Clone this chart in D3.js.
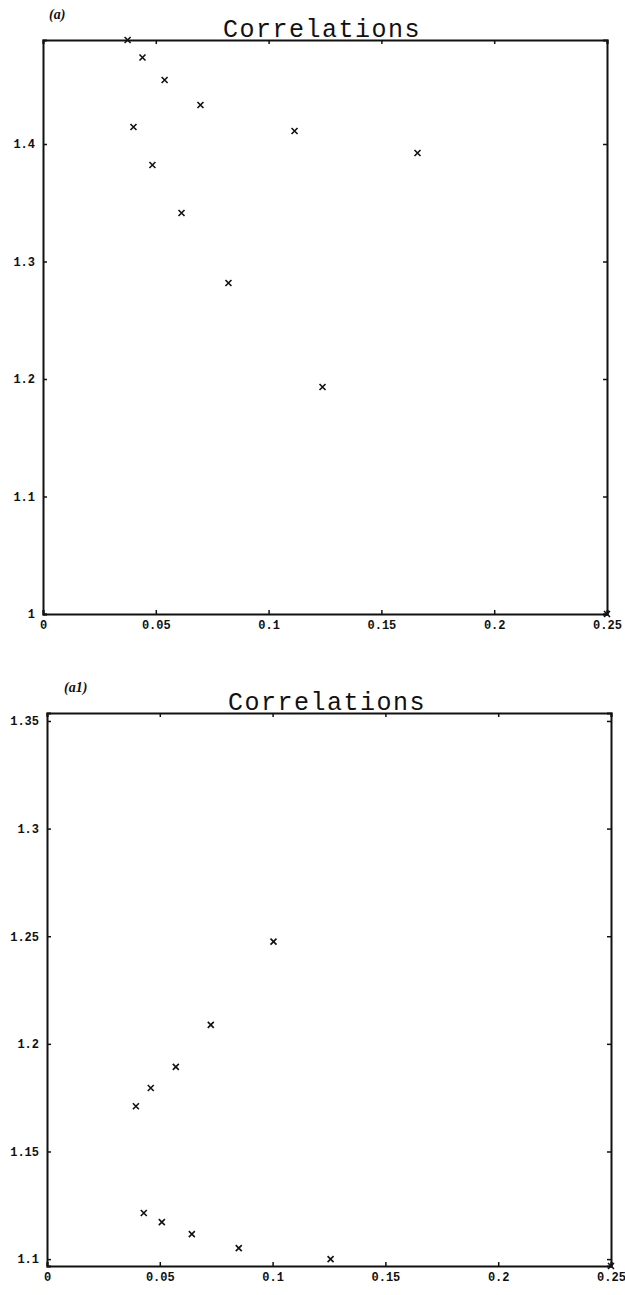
<!DOCTYPE html>
<html>
<head>
<meta charset="utf-8">
<script src="https://cdn.jsdelivr.net/npm/d3@7/dist/d3.min.js"></script>
<style>
  html, body { margin: 0; padding: 0; background: #fff; }
  svg { display: block; }
  .tick-label { font-family: "Liberation Mono", "DejaVu Sans Mono", monospace; font-weight: bold; font-size: 12px; fill: #111; }
  .title { font-family: "Liberation Mono", "DejaVu Sans Mono", monospace; font-size: 25px; fill: #111; letter-spacing: 1.5px; }
  .panel-tag { font-family: "Liberation Serif", "DejaVu Serif", serif; font-style: italic; font-weight: bold; font-size: 14px; fill: #111; }
</style>
</head>
<body>
<svg id="chart" width="625" height="1295"></svg>
<script>
// Panel (a): correlation estimates
const aX = [0.0375, 0.0441, 0.0539, 0.0698, 0.0401, 0.1115, 0.0485, 0.1660, 0.0614, 0.0822, 0.1239, 0.25];
const aY = [1.4885, 1.4736, 1.4545, 1.4332, 1.4145, 1.4111, 1.3821, 1.3923, 1.3413, 1.2817, 1.1932, 1.0];
const aYTicks = [1, 1.1, 1.2, 1.3, 1.4];
const aYTickLabels = ["1", "1.1", "1.2", "1.3", "1.4"];

// Panel (a1): correlation estimates
const a1X = [0.1004, 0.0726, 0.0571, 0.0460, 0.0394, 0.0429, 0.0509, 0.0642, 0.0850, 0.1257, 0.25];
const a1Y = [1.2475, 1.2088, 1.1893, 1.1795, 1.1710, 1.1214, 1.1172, 1.1116, 1.1051, 1.1000, 1.0968];
const a1YTicks = [1.1, 1.15, 1.2, 1.25, 1.3, 1.35];
const a1YTickLabels = ["1.1", "1.15", "1.2", "1.25", "1.3", "1.35"];

const xTicks = [0, 0.05, 0.1, 0.15, 0.2, 0.25];
const xTickLabels = ["0", "0.05", "0.1", "0.15", "0.2", "0.25"];

const svg = d3.select("#chart");

function drawPanel(cfg) {
  const x = d3.scaleLinear().domain([0, 0.25]).range([cfg.left, cfg.right]);
  const y = d3.scaleLinear().domain(cfg.yDomain).range([cfg.bottom, cfg.top]);
  const g = svg.append("g");
  const tickLen = 4;

  // inward ticks on all four sides, labels on left and bottom only
  const bottomAxis = d3.axisBottom(x).tickValues(xTicks).tickSize(-tickLen).tickFormat((d, i) => xTickLabels[i]);
  const topAxis = d3.axisTop(x).tickValues(xTicks).tickSize(-tickLen).tickFormat("");
  const leftAxis = d3.axisLeft(y).tickValues(cfg.yTicks).tickSize(-tickLen).tickFormat((d, i) => cfg.yTickLabels[i]);
  const rightAxis = d3.axisRight(y).tickValues(cfg.yTicks).tickSize(-tickLen).tickFormat("");

  const gb = g.append("g").attr("transform", `translate(0,${cfg.bottom})`).call(bottomAxis);
  const gt = g.append("g").attr("transform", `translate(0,${cfg.top})`).call(topAxis);
  const gl = g.append("g").attr("transform", `translate(${cfg.left},0)`).call(leftAxis);
  const gr = g.append("g").attr("transform", `translate(${cfg.right},0)`).call(rightAxis);

  [gb, gt, gl, gr].forEach(a => {
    a.select(".domain").attr("stroke", "#111").attr("stroke-width", 2);
    a.selectAll(".tick line").attr("stroke", "#111").attr("stroke-width", 1.5);
    a.selectAll(".tick text").attr("class", "tick-label").attr("font-family", null).attr("font-size", null);
  });
  gb.selectAll(".tick text").attr("dy", "0.71em").attr("y", 6);
  gl.selectAll(".tick text").attr("x", -8);

  // cross markers
  const s = 3;
  g.append("g").selectAll("path")
    .data(cfg.xs.map((v, i) => [v, cfg.ys[i]]))
    .join("path")
    .attr("d", d => {
      const px = x(d[0]), py = y(d[1]);
      return `M${px - s},${py - s}L${px + s},${py + s}M${px - s},${py + s}L${px + s},${py - s}`;
    })
    .attr("stroke", "#111")
    .attr("stroke-width", 1.6)
    .attr("fill", "none");

  g.append("text").attr("class", "title")
    .attr("x", cfg.titleX).attr("y", cfg.top - 3)
    .attr("text-anchor", "middle").text("Correlations");

  g.append("text").attr("class", "panel-tag")
    .attr("x", cfg.tagX).attr("y", cfg.top - 21).text(cfg.tag);
}

drawPanel({
  left: 43, right: 607, top: 40, bottom: 614,
  yDomain: [1, 1.4885], yTicks: aYTicks, yTickLabels: aYTickLabels,
  xs: aX, ys: aY, tag: "(a)", tagX: 49, titleX: 322
});

drawPanel({
  left: 47, right: 611, top: 713, bottom: 1266,
  yDomain: [1.0968, 1.3537], yTicks: a1YTicks, yTickLabels: a1YTickLabels,
  xs: a1X, ys: a1Y, tag: "(a1)", tagX: 64, titleX: 327
});
</script>
</body>
</html>
